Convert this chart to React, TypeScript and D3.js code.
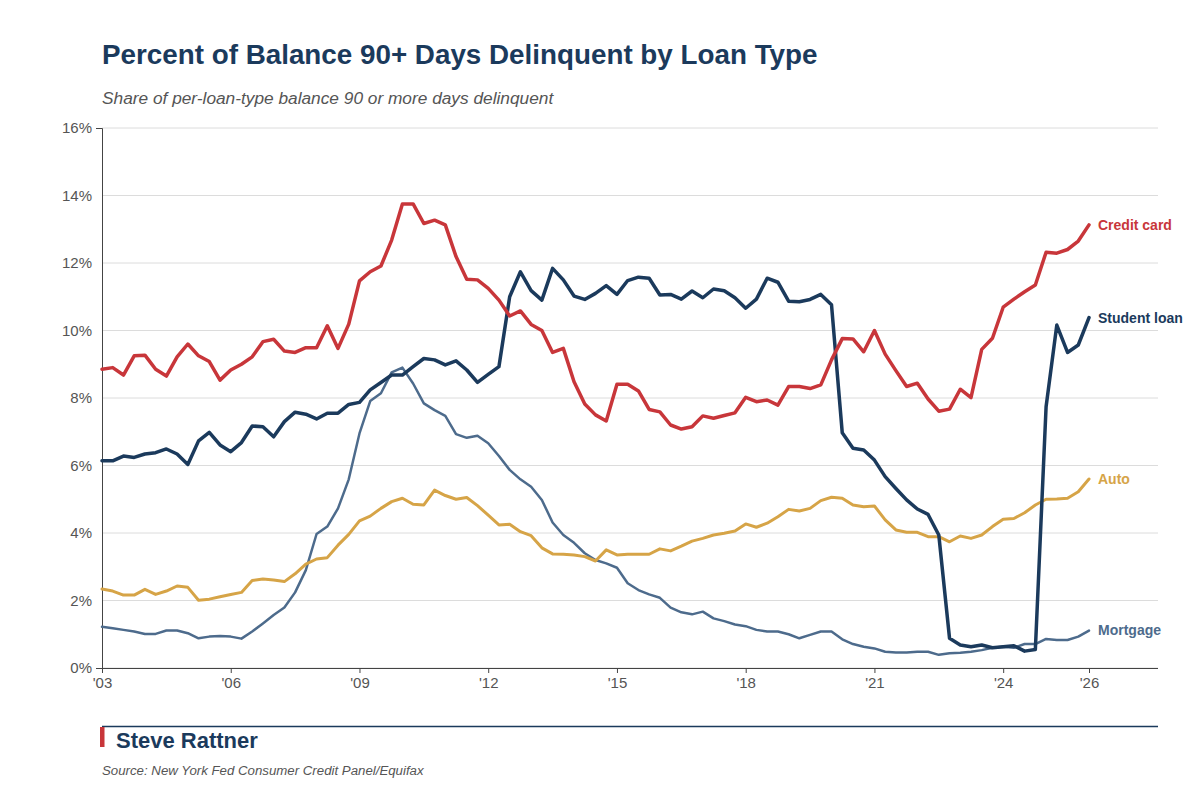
import React, { useEffect, useRef } from "react";
import * as d3 from "d3";

// Quarterly readings, 2003 Q1 through 2026 Q1 (93 points each), in percent
const creditCard: number[] = [
  8.85, 8.9, 8.68, 9.25, 9.27, 8.85, 8.65, 9.22, 9.6, 9.25, 9.08, 8.53, 8.83, 9.0, 9.22, 9.67, 9.74, 9.39, 9.35, 9.49,
  9.49, 10.14, 9.47, 10.19, 11.47, 11.74, 11.91, 12.68, 13.75, 13.75, 13.17, 13.27, 13.13, 12.19, 11.52, 11.5, 11.25,
  10.9, 10.43, 10.58, 10.18, 10.0, 9.35, 9.47, 8.48, 7.82, 7.5, 7.32, 8.41, 8.41, 8.21, 7.66, 7.59, 7.2, 7.08, 7.15,
  7.47, 7.4, 7.48, 7.56, 8.02, 7.89, 7.94, 7.79, 8.34, 8.34, 8.28, 8.39, 9.13, 9.76, 9.75, 9.37, 10.0,
  9.3, 8.81, 8.34, 8.44, 7.97, 7.61, 7.67, 8.26, 8.01, 9.44, 9.77, 10.69, 10.93, 11.15, 11.35, 12.32, 12.29, 12.4, 12.65, 13.13,
];
const studentLoan: number[] = [
  6.14, 6.14, 6.28, 6.24, 6.34, 6.38, 6.49, 6.34, 6.03, 6.73, 6.98, 6.61, 6.41, 6.68, 7.17, 7.15, 6.85, 7.3, 7.58, 7.52,
  7.38, 7.55, 7.55, 7.81, 7.87, 8.24, 8.46,
  8.68, 8.68, 8.93, 9.17, 9.13, 8.98, 9.1, 8.83, 8.46, 8.7, 8.93,
  11.0, 11.74, 11.18, 10.9, 11.84, 11.5, 11.02, 10.92, 11.1, 11.33, 11.07, 11.48, 11.58, 11.55, 11.05, 11.07, 10.93,
  11.17, 10.97, 11.23, 11.18, 10.97, 10.66, 10.93, 11.55, 11.43, 10.87, 10.85, 10.92, 11.07, 10.76,
  6.97, 6.51, 6.46, 6.16, 5.67, 5.32, 4.98, 4.71, 4.55, 3.94, 0.88, 0.68, 0.63, 0.68, 0.6, 0.63, 0.66, 0.5, 0.55,
  7.74, 10.16, 9.35, 9.57, 10.38,
];
const auto: number[] = [
  2.34, 2.28, 2.16, 2.16, 2.33, 2.18, 2.28, 2.43, 2.39, 2.01, 2.04, 2.11, 2.18, 2.24, 2.59, 2.64, 2.61, 2.56, 2.79, 3.08,
  3.23, 3.27, 3.64, 3.96, 4.36, 4.5, 4.73, 4.93, 5.03, 4.85, 4.83, 5.27, 5.11, 5.0, 5.05, 4.81, 4.53,
  4.24, 4.26, 4.04, 3.92, 3.56, 3.38, 3.37, 3.35, 3.3, 3.17, 3.5, 3.35, 3.37, 3.37, 3.37, 3.53, 3.47, 3.61, 3.76,
  3.84, 3.94, 3.99, 4.06, 4.27, 4.17, 4.29, 4.48, 4.7, 4.65, 4.73, 4.96, 5.06, 5.03, 4.83, 4.78, 4.8,
  4.39, 4.09, 4.02, 4.02, 3.89, 3.89, 3.74, 3.91, 3.84, 3.94, 4.19, 4.41, 4.43, 4.6, 4.83, 5.0, 5.01, 5.03, 5.22, 5.6,
];
const mortgage: number[] = [
  1.22, 1.18, 1.13, 1.08, 1.01, 1.01, 1.11, 1.11, 1.03, 0.88, 0.93, 0.95, 0.93, 0.87, 1.08, 1.32, 1.57, 1.79, 2.24, 2.9,
  3.97, 4.19, 4.73, 5.59, 6.95, 7.91, 8.14,
  8.76, 8.9, 8.43, 7.84, 7.64, 7.47, 6.93, 6.82, 6.88, 6.66,
  6.28, 5.87, 5.59, 5.37, 4.98, 4.31, 3.94, 3.71, 3.4, 3.2, 3.1, 2.97, 2.51, 2.31, 2.18, 2.08, 1.79, 1.65, 1.59,
  1.67, 1.47, 1.39, 1.29, 1.24, 1.13, 1.08, 1.08, 1.0, 0.88, 0.98, 1.08, 1.08, 0.85, 0.71, 0.63, 0.58,
  0.48, 0.46, 0.46, 0.48, 0.48, 0.39, 0.44, 0.45, 0.48, 0.53, 0.6, 0.63, 0.6, 0.71, 0.71, 0.86, 0.83, 0.83, 0.93, 1.11,
];

const quarters: number[] = creditCard.map((_, i) => 2003 + i / 4);
const xTicks = [2003, 2006, 2009, 2012, 2015, 2018, 2021, 2024, 2026];
const yTicks = [0, 2, 4, 6, 8, 10, 12, 14, 16];

const series = [
  { name: "Credit card", values: creditCard, color: "#c8363a", width: 3.5 },
  { name: "Student loan", values: studentLoan, color: "#1b3a5c", width: 3.5 },
  { name: "Auto", values: auto, color: "#d6a447", width: 3 },
  { name: "Mortgage", values: mortgage, color: "#4d6b8c", width: 2.5 },
];

const FONT = "'Liberation Sans', Arial, Helvetica, sans-serif";
const NAVY = "#1b3a5c";

export default function App() {
  const ref = useRef<SVGSVGElement>(null);

  useEffect(() => {
    document.body.style.margin = "0";
    if (!ref.current) return;
    draw(ref.current);
  }, []);

  return <svg ref={ref} width={1200} height={800} style={{ display: "block", background: "#fff" }} />;
}

function draw(svg: SVGSVGElement) {
  const el = d3.select(svg);
  el.selectAll("*").remove();

  const left = 102;
  const right = 1158;
  const top = 128;
  const bottom = 668;

  const x = d3.scaleLinear().domain([2003, 2026]).range([left, 1089]);
  const y = d3.scaleLinear().domain([0, 16]).range([bottom, top]);

  // Title block
  el.append("text")
    .attr("x", left).attr("y", 64)
    .attr("font-family", FONT).attr("font-size", 27.8).attr("font-weight", 700)
    .attr("fill", NAVY)
    .text("Percent of Balance 90+ Days Delinquent by Loan Type");
  el.append("text")
    .attr("x", left).attr("y", 104)
    .attr("font-family", FONT).attr("font-size", 17.3).attr("font-style", "italic")
    .attr("fill", "#555")
    .text("Share of per-loan-type balance 90 or more days delinquent");

  // Gridlines
  el.append("g")
    .selectAll("line")
    .data(yTicks)
    .join("line")
    .attr("x1", left).attr("x2", right)
    .attr("y1", (d) => y(d)).attr("y2", (d) => y(d))
    .attr("stroke", "#dcdcdc").attr("stroke-width", 1);

  // Y axis
  const yAxis = el.append("g")
    .attr("transform", `translate(${left},0)`)
    .call(d3.axisLeft(y).tickValues(yTicks).tickSize(0).tickSizeOuter(6).tickPadding(10).tickFormat((d) => `${d}%`));
  yAxis.select(".domain").attr("stroke", "#444");
  yAxis.selectAll("text").attr("font-family", FONT).attr("font-size", 15).attr("fill", "#555");

  // X axis
  const xAxis = el.append("g")
    .attr("transform", `translate(0,${bottom})`)
    .call(d3.axisBottom(x).tickValues(xTicks).tickSize(5).tickSizeOuter(0).tickPadding(4).tickFormat((d) => `'${String(d).slice(2)}`));
  xAxis.select(".domain").attr("d", `M${left},0.5H${right}`).attr("stroke", "#444");
  xAxis.selectAll(".tick line").attr("stroke", "#444");
  xAxis.selectAll("text").attr("font-family", FONT).attr("font-size", 15).attr("fill", "#555");

  // Lines, drawn back to front
  const line = d3.line<number>()
    .x((_, i) => x(quarters[i]))
    .y((d) => y(d));

  [...series].reverse().forEach((s) => {
    el.append("path")
      .datum(s.values)
      .attr("fill", "none")
      .attr("stroke", s.color)
      .attr("stroke-width", s.width)
      .attr("stroke-linejoin", "round")
      .attr("stroke-linecap", "round")
      .attr("d", line);
  });

  // End labels
  series.forEach((s) => {
    const last = s.values.length - 1;
    el.append("text")
      .attr("x", x(quarters[last]) + 9)
      .attr("y", y(s.values[last]))
      .attr("dy", "0.35em")
      .attr("font-family", FONT).attr("font-size", 14).attr("font-weight", 700)
      .attr("fill", s.color)
      .text(s.name);
  });

  // Footer
  el.append("line")
    .attr("x1", left).attr("x2", right)
    .attr("y1", 726.5).attr("y2", 726.5)
    .attr("stroke", NAVY).attr("stroke-width", 1.5);
  el.append("rect")
    .attr("x", 100).attr("y", 727).attr("width", 4.5).attr("height", 20)
    .attr("fill", "#c8363a");
  el.append("text")
    .attr("x", 116).attr("y", 748)
    .attr("font-family", FONT).attr("font-size", 22).attr("font-weight", 700)
    .attr("fill", NAVY)
    .text("Steve Rattner");
  el.append("text")
    .attr("x", left).attr("y", 775)
    .attr("font-family", FONT).attr("font-size", 13.25).attr("font-style", "italic")
    .attr("fill", "#555")
    .text("Source: New York Fed Consumer Credit Panel/Equifax");
}
